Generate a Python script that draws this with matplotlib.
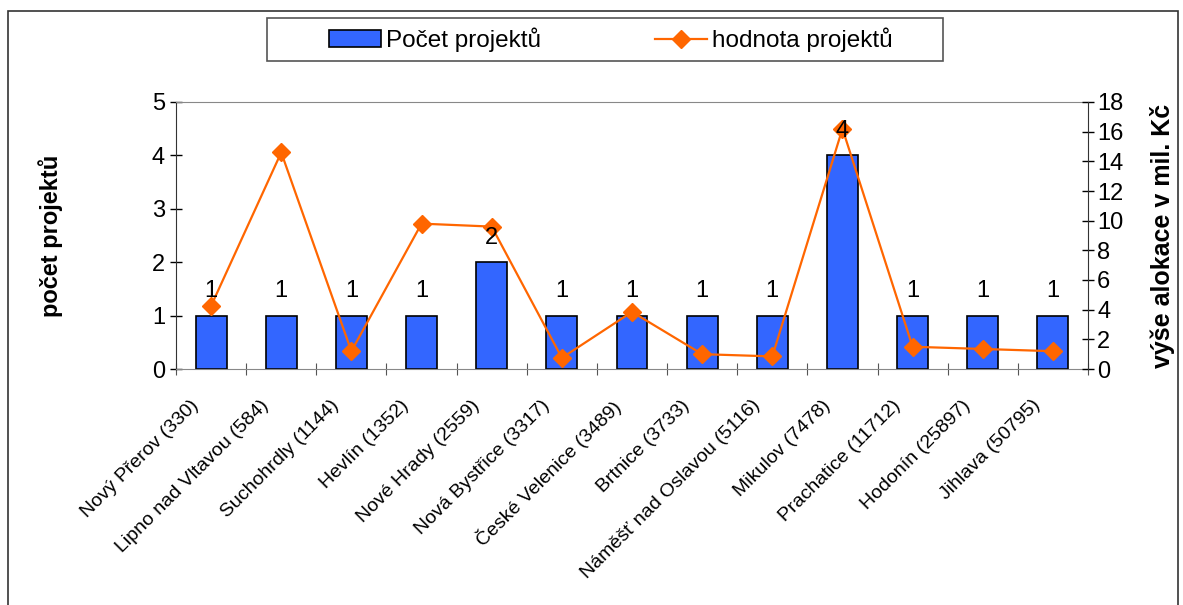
import numpy as np
from matplotlib import pyplot as plt
from matplotlib.patches import Rectangle
from matplotlib.transforms import ScaledTranslation

plt.rcParams['font.family'] = ['Liberation Sans', 'DejaVu Sans']

mesta = ["Nový Přerov (330)", "Lipno nad Vltavou (584)", "Suchohrdly (1144)",
         "Hevlín (1352)", "Nové Hrady (2559)", "Nová Bystřice (3317)",
         "České Velenice (3489)", "Brtnice (3733)", "Náměšť nad Oslavou (5116)",
         "Mikulov (7478)", "Prachatice (11712)", "Hodonín (25897)", "Jihlava (50795)"]
pocet = [1, 1, 1, 1, 2, 1, 1, 1, 1, 4, 1, 1, 1]
hodnota = [4.25, 14.6, 1.2, 9.8, 9.6, 0.75, 3.85, 1.0, 0.85, 16.2, 1.5, 1.35, 1.2]

fig = plt.figure(figsize=(11.83, 6.05), dpi=100)
fig.patches.append(Rectangle((8/1183, -0.1), 1170/1183, 1.1 - 11/605,
                             transform=fig.transFigure, fill=False,
                             edgecolor="#333333", lw=1.2))
# ramecek legendy
fig.patches.append(Rectangle((267/1183, 1 - 61/605), 676/1183, 43/605,
                             transform=fig.transFigure, fill=False,
                             edgecolor="#555555", lw=1.2))

ax = fig.add_axes([176/1183, 1 - 369/605, 912/1183, 267/605])
x = np.arange(len(mesta))
bars = ax.bar(x, pocet, width=0.44, color="#3366FF", edgecolor="black", lw=1.2,
              label="Počet projektů", zorder=2)

ax.set_xlim(-0.5, len(mesta) - 0.5)
ax.set_ylim(0, 5)
ax.set_yticks(range(6))
ax.tick_params(axis="y", labelsize=17, direction="inout", length=9, width=1)
ax.set_xticks(np.arange(-0.5, len(mesta), 1))
ax.set_xticklabels([])
ax.set_xticks(x, minor=True)
ax.set_xticklabels(mesta, minor=True, rotation=45, ha="right",
                   rotation_mode="anchor", fontsize=14)
ax.tick_params(axis="x", which="minor", length=0, pad=20)
ax.tick_params(axis="x", which="major", direction="inout", length=8, color="#555555")
posun = ScaledTranslation(-21/100, 0, fig.dpi_scale_trans)
for lab in ax.get_xticklabels(minor=True):
    lab.set_transform(lab.get_transform() + posun)
ax.set_ylabel("počet projektů", fontsize=17, fontweight="bold", labelpad=64)
ax.spines["top"].set_color("#888888")
ax.spines["bottom"].set_color("#888888")
ax.spines["left"].set_color("#333333")
ax.spines["right"].set_visible(False)

ax2 = ax.twinx()
line, = ax2.plot(x, hodnota, color="#FF6600", lw=1.6, marker="D", markersize=9,
                 label="hodnota projektů", zorder=3)
ax2.set_ylim(0, 18)
ax2.set_yticks(range(0, 19, 2))
ax2.tick_params(axis="y", labelsize=17, direction="inout", length=9, width=1, pad=2)
ax2.set_ylabel("výše alokace v mil. Kč", fontsize=18, fontweight="bold", labelpad=19)
ax2.spines["right"].set_color("#333333")
ax2.spines["top"].set_visible(False)
ax2.spines["left"].set_visible(False)
ax2.spines["bottom"].set_visible(False)

# popisky sloupcu nad carou
for xi, v in zip(x, pocet):
    ax2.text(xi, v + 0.25, str(v), transform=ax.transData, ha="center",
             va="bottom", fontsize=17, zorder=5)

leg = fig.legend([bars, line], ["Počet projektů", "hodnota projektů"],
                 loc="center", ncol=2,
                 bbox_to_anchor=(611/1183, 1 - 40/605),
                 fontsize=17.5, frameon=False, borderaxespad=0,
                 handlelength=2.14, handletextpad=0.2, columnspacing=4.7)

plt.savefig("out.png", dpi=100)
